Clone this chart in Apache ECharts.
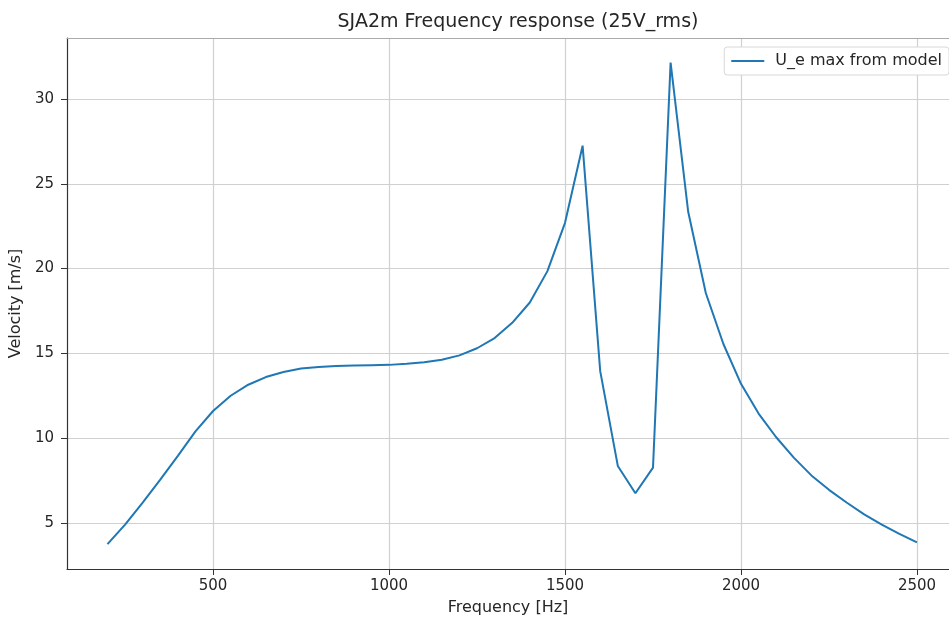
<!DOCTYPE html>
<html>
<head>
<meta charset="utf-8">
<script src="https://cdn.jsdelivr.net/npm/echarts@6/dist/echarts.min.js"></script>
<style>html,body{margin:0;padding:0;background:#fff}#c{width:949px;height:621px}</style>
</head>
<body>
<div id="c"></div>
<script>
const frequencies = [200,250,300,350,400,450,500,550,600,650,700,750,800,850,900,950,1000,1050,1100,1150,1200,1250,1300,1350,1400,1450,1500,1550,1600,1650,1700,1750,1800,1850,1900,1950,2000,2050,2100,2150,2200,2250,2300,2350,2400,2450,2500];
const velocity = [3.75,4.9,6.2,7.55,8.95,10.4,11.6,12.5,13.15,13.6,13.9,14.1,14.2,14.25,14.28,14.3,14.32,14.38,14.47,14.62,14.88,15.3,15.9,16.8,18.0,19.85,22.7,27.25,13.95,8.36,6.75,8.26,32.15,23.35,18.56,15.55,13.2,11.45,10.05,8.85,7.8,6.95,6.2,5.5,4.9,4.35,3.85];
const xTicks = [500,1000,1500,2000,2500];
const yTicks = [5,10,15,20,25,30];
const titleText = 'SJA2m Frequency response (25V_rms)';
const seriesName = 'U_e max from model';

const chart = echarts.init(document.getElementById('c'), null, {renderer:'canvas'});
const font = 'DejaVu Sans';
const txt = '#262626';
chart.setOption({
  animation:false,
  backgroundColor:'#fff',
  title:{text:titleText,left:513,top:8,textAlign:'center',textStyle:{fontFamily:font,fontSize:19,fontWeight:'normal',color:txt}},
  legend:{right:0,top:47,data:[seriesName],icon:'rect',itemWidth:33,itemHeight:2,
    borderColor:'#d8d8d8',borderWidth:1,borderRadius:3,backgroundColor:'#fff',padding:[6,7,6,7],
    textStyle:{fontFamily:font,fontSize:16,color:txt,padding:[0,0,0,6]}},
  grid:{left:67,top:38,right:0,bottom:52,show:false},
  xAxis:[{type:'value',min:85,max:2591,name:'Frequency [Hz]',nameLocation:'middle',nameGap:31,
    nameTextStyle:{fontFamily:font,fontSize:16,color:txt},
    axisLine:{show:true,onZero:false,lineStyle:{color:'#333',width:1.2}},
    axisTick:{show:true,length:6,customValues:xTicks,lineStyle:{color:'#333'}},
    axisLabel:{customValues:xTicks,formatter:v=>String(v),fontFamily:font,fontSize:15,color:txt,margin:10},
    splitLine:{show:true,lineStyle:{color:'#d0d0d0',width:1.2}}},
   {type:'value',position:'top',min:85,max:2591,
    axisLine:{show:true,onZero:false,lineStyle:{color:'#aaa',width:1}},
    axisTick:{show:false},axisLabel:{show:false},splitLine:{show:false}}],
  yAxis:{type:'value',min:2.28,max:33.6,name:'Velocity [m/s]',nameLocation:'middle',nameGap:39,nameRotate:90,
    nameTextStyle:{fontFamily:font,fontSize:16,color:txt},
    axisLine:{show:true,onZero:false,lineStyle:{color:'#333',width:1.2}},
    axisTick:{show:true,length:6,customValues:yTicks,lineStyle:{color:'#333'}},
    axisLabel:{customValues:yTicks,formatter:v=>String(v),fontFamily:font,fontSize:15,color:txt,margin:13},
    splitLine:{show:true,lineStyle:{color:'#d0d0d0',width:1.2}}},
  series:[{name:seriesName,type:'line',data:frequencies.map((f,i)=>[f,velocity[i]]),showSymbol:false,
    lineStyle:{color:'#1f77b4',width:2},itemStyle:{color:'#1f77b4'}}]
});
</script>
</body>
</html>
